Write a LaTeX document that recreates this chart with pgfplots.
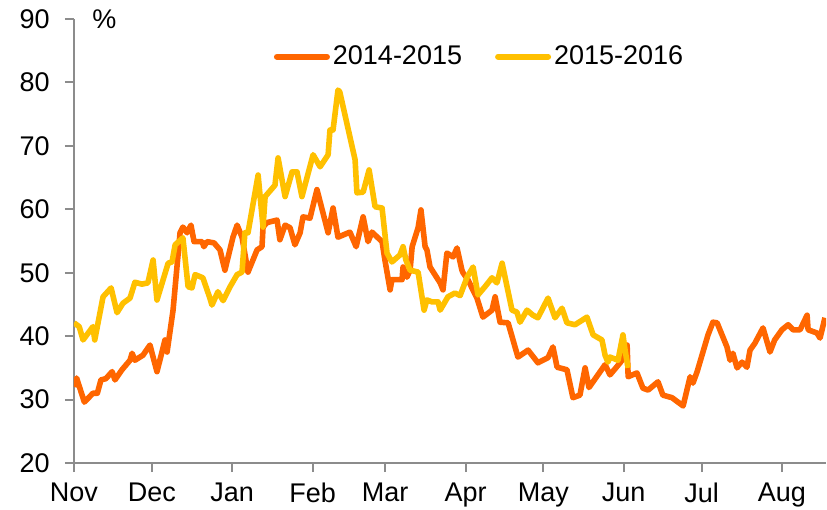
\documentclass[border=0pt]{standalone}
\usepackage{pgfplots}
\pgfplotsset{compat=1.18}
\usepackage{fontspec}
\setmainfont{Liberation Sans}
\definecolor{cA}{HTML}{FF6600}
\definecolor{cB}{HTML}{FFC000}
\definecolor{axgray}{HTML}{8C8C8C}
\begin{document}
\fontsize{13.5}{16}\selectfont
\begin{tikzpicture}
\begin{axis}[
  scale only axis, width=376pt, height=222pt,
  xmin=0, xmax=290, ymin=20, ymax=90,
  axis x line*=bottom, axis y line*=left,
  axis line style={axgray, line width=1pt, -},
  tick style={axgray, line width=1pt},
  tick align=outside,
  major tick length=4.5pt,
  xtick={0,30,61,92,120,151,181,212,242,273},
  xticklabels={Nov,Dec,Jan,Feb,Mar,Apr,May,Jun,Jul,Aug},
  ytick={20,30,40,50,60,70,80,90},
  /pgf/number format/assume math mode=true,
  tick label style={font=\fontsize{13.5}{16}\selectfont, text=black},
  yticklabel style={xshift=-3pt},
  xticklabel style={yshift=-1pt},
  legend style={at={(rel axis cs:0.54,0.915)}, anchor=center, draw=none, fill=none,
    font=\fontsize{13.5}{16}\selectfont, inner sep=0pt,
    nodes={inner sep=1.5pt}},
  legend columns=2,
  legend cell align=left,
  /tikz/every even column/.append style={column sep=15pt},
  legend image code/.code={\draw[#1, line width=3pt, line cap=round] (0pt,0pt) -- (25pt,0pt);},
]
\addplot[cA, line width=2.8pt, line join=round] table {
0 32.0
1 33.4
4 29.6
7.3 31.0
9 31.0
10.4 33.1
12.3 33.3
14.7 34.4
15.8 33.1
18.5 34.7
21.6 36.2
22.4 37.3
23.5 36.2
26.6 37.0
29.3 38.6
30.5 36.7
32 34.4
35.1 39.4
35.9 37.5
38.2 44.1
40.9 56.3
42 57.2
43.6 56.3
45.1 57.5
46.3 54.9
49.4 54.9
50.1 54.1
51.3 54.9
54 54.7
56.3 53.6
58.2 50.4
61.3 55.6
62.9 57.5
64.8 55.6
67.1 50.1
70.6 53.6
72.5 54.1
72.9 57.2
74.4 57.9
78.3 58.3
79.4 55.2
81.4 57.5
83.3 57.1
85.2 54.4
87.2 56.3
88.3 58.8
91 58.6
93.7 63.1
98 56.3
99.9 60.2
101.8 55.6
106.4 56.4
108.8 54.1
111.5 58.8
113.4 54.9
114.9 56.4
118.8 54.9
119.9 52.0
121.9 47.3
122.6 48.9
126.5 48.9
126.9 50.9
128.4 49.3
129.6 50.4
130.4 54.1
132.7 57.1
133.8 59.9
135.4 54.1
136.1 53.6
137.3 50.9
141.2 48.4
142.3 47.3
143.8 53.1
146.2 52.5
147.7 53.9
149.6 50.4
150 50.0
151.9 48.9
155.4 46.0
157.7 43.0
161.2 44.1
162.4 46.2
164.3 42.2
167.4 42.1
171.2 36.7
175.1 37.8
178.9 35.8
182.8 36.6
184.7 38.3
186.3 35.1
190.1 34.7
192.4 30.3
195.1 30.7
197.1 35.0
198.6 31.9
200.5 33.0
204.8 35.5
206.7 33.9
210.6 35.8
211.3 36.2
213.3 38.6
213.7 33.6
217.1 34.2
219.4 31.8
221.4 31.5
225.2 32.8
227.1 30.7
230.6 30.3
234.9 29.0
237.6 33.6
238.7 32.6
240.3 34.4
244.5 40.2
246.4 42.2
248 42.1
251.8 38.3
253 36.2
254.1 37.3
255.7 35.0
257.6 35.9
259.5 35.1
260.7 37.8
262.6 38.9
265.7 41.3
268.4 37.5
270.2 39.4
273 41.0
275.4 41.8
277.3 41.0
280 41.0
282.7 43.3
283.1 41.0
286.5 40.5
287.7 39.7
289.6 42.9
};
\addlegendentry{2014-2015}
\addplot[cB, line width=2.8pt, line join=round] table {
0 42.1
2 41.5
3.5 39.4
7.3 41.5
8 39.4
11.2 46.2
14.3 47.6
16.6 43.7
18.9 45.2
21.6 46.0
23.5 48.5
26.2 48.2
28.5 48.4
30.5 52.0
32 45.7
36.3 51.5
37.8 51.7
39 54.4
42 55.5
44 47.8
45.5 47.6
46.7 49.7
49.7 49.2
52.4 46.0
53.2 44.9
55.5 47.0
57.5 45.6
60.2 47.8
62.9 49.7
64.8 50.1
65.9 56.3
67.1 56.3
71 65.4
72.9 57.2
73.7 62.0
77.5 63.8
78.7 68.1
81.4 62.0
84.1 65.9
86 65.9
87.9 62.0
92.2 68.6
94.9 66.7
98 68.6
98.7 72.5
99.9 72.5
101.8 78.8
102.5 78.5
108.4 67.8
109.1 62.6
111.5 62.7
113.8 66.2
116.1 60.4
118.8 60.2
120.7 53.1
122.6 51.7
125.7 52.8
126.9 54.1
128 52.0
129.6 50.4
132.7 50.1
135 44.1
136.1 45.7
138.1 45.4
140.4 45.4
141.2 44.1
144.2 46.2
146.9 46.8
148.9 46.4
151.6 49.3
153.9 50.9
155.8 46.5
158.5 47.8
161.2 49.2
163.1 48.4
165.1 51.5
168.9 44.1
170.8 43.8
172 42.2
174.7 44.1
177 43.3
178.9 42.9
182.8 46.0
185.5 42.9
188.2 44.4
190.1 42.1
193.2 41.8
196.3 42.6
197.8 43.0
200.2 40.2
203.6 39.4
204.8 37.0
205.9 35.9
206.7 36.7
209.8 36.2
211.7 40.2
212.5 37.8
213.7 35.0
};
\addlegendentry{2015-2016}
\end{axis}
\node[anchor=base west, inner sep=0pt, font=\fontsize{13.5}{16}\selectfont] at ([xshift=9pt,yshift=-4.5pt]current axis.north west) {\%};
\pgfresetboundingbox
\path[use as bounding box] ([xshift=-37pt,yshift=-23pt]current axis.south west) rectangle ([xshift=0.5pt,yshift=9.5pt]current axis.north east);
\end{tikzpicture}
\end{document}
